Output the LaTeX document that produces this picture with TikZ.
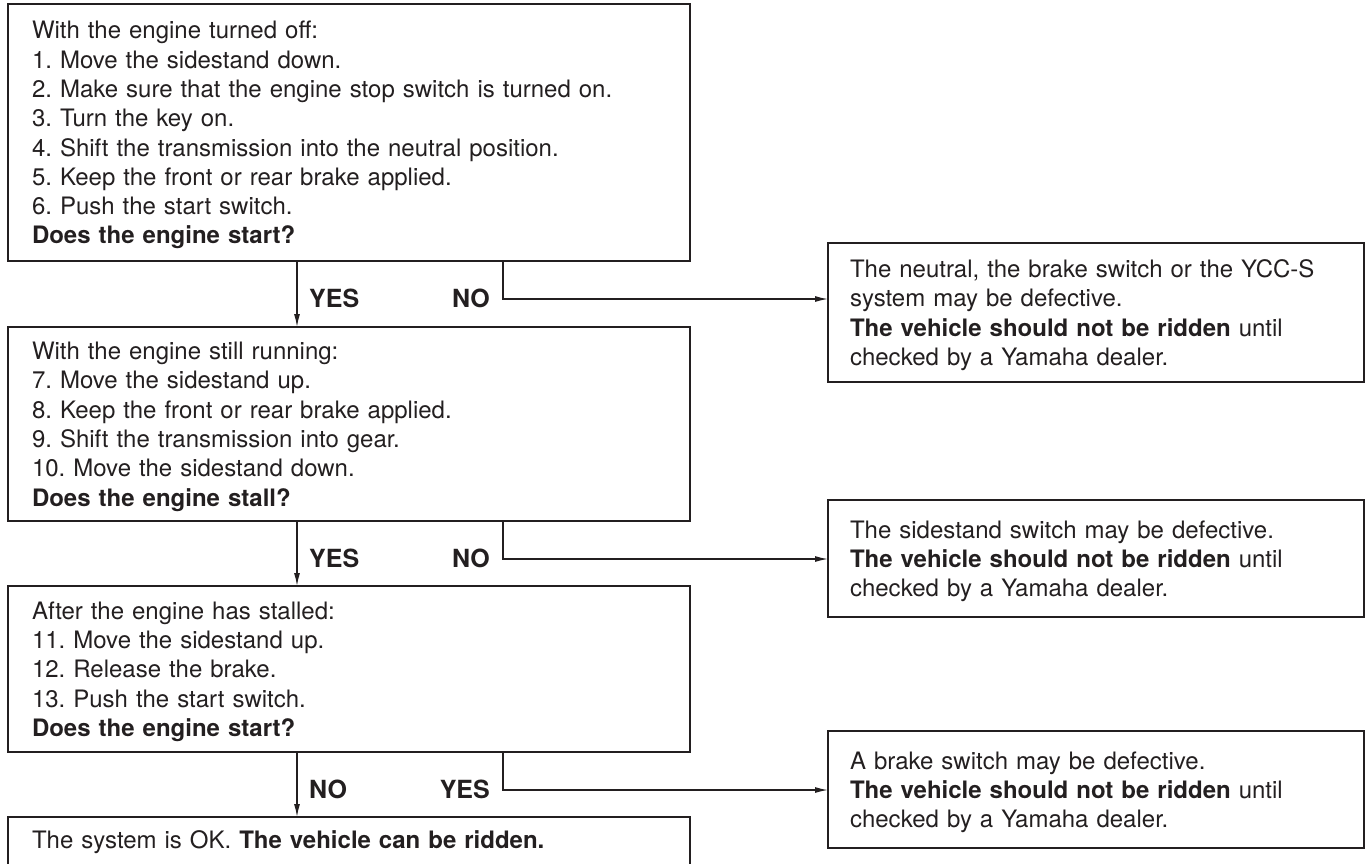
\documentclass[tikz,border=0pt]{standalone}
\usepackage{fontspec}
\setmainfont{TeX Gyre Heros}
\usetikzlibrary{arrows.meta,positioning,calc}
\definecolor{ink}{HTML}{231F20}
\newcommand\bstrut{\rule[-5.8pt]{0pt}{29.3pt}}
\frenchspacing
\begin{document}
\begin{tikzpicture}[x=1pt,y=-1pt,
  box/.style={draw=ink,line width=2.6pt,anchor=north west,outer sep=0pt,inner xsep=24pt,inner ysep=0pt,
    text width=634pt,align=left,font=\fontsize{24pt}{29.3pt}\selectfont,text=ink},
  rbox/.style={box,inner xsep=22pt,text width=492pt},
  lab/.style={font=\bfseries\fontsize{25pt}{30pt}\selectfont,text=ink,inner sep=0pt},
  conn/.style={draw=ink,line width=1.3pt},
  arr/.style={conn,-{Latex[length=13pt,width=6pt]}}]
\useasboundingbox (0,0) rectangle (1368,863);
\clip (0,0) rectangle (1368,863);
\coordinate (colY) at (297,0);
\coordinate (colN) at (503,0);
\coordinate (colR) at (828,0);

\node[box,minimum height=257pt] (box1) at (8,4) {\bstrut With the engine turned off:\\
1. Move the sidestand down.\\
2. Make sure that the engine stop switch is turned on.\\
3. Turn the key on.\\
4. Shift the transmission into the neutral position.\\
5. Keep the front or rear brake applied.\\
6. Push the start switch.\\
\textbf{Does the engine start?}\bstrut};

\node[box,minimum height=194pt,below=66pt of box1] (box2) {\bstrut With the engine still running:\\
7. Move the sidestand up.\\
8. Keep the front or rear brake applied.\\
9. Shift the transmission into gear.\\
10. Move the sidestand down.\\
\textbf{Does the engine stall?}\bstrut};

\node[box,minimum height=166pt,below=65pt of box2] (box3) {\bstrut After the engine has stalled:\\
11. Move the sidestand up.\\
12. Release the brake.\\
13. Push the start switch.\\
\textbf{Does the engine start?}\bstrut};

\node[box,inner ysep=7.5pt,below=65pt of box3] (box4) {\bstrut The system is OK. \textbf{The vehicle can be ridden.}\bstrut\\[60pt]\mbox{}};

\node[rbox,minimum height=139pt] (boxA) at ($(box1.south -| colR)+(0,-18)$) {\bstrut The neutral, the brake switch or the YCC-S\\
system may be defective.\\
\textbf{The vehicle should not be ridden} until\\
checked by a Yamaha dealer.\bstrut};

\node[rbox,minimum height=117pt] (boxB) at ($(box2.south -| colR)+(0,-21)$) {\bstrut The sidestand switch may be defective.\\
\textbf{The vehicle should not be ridden} until\\
checked by a Yamaha dealer.\bstrut};

\node[rbox,minimum height=117pt] (boxC) at ($(box3.south -| colR)+(0,-21)$) {\bstrut A brake switch may be defective.\\
\textbf{The vehicle should not be ridden} until\\
checked by a Yamaha dealer.\bstrut};

\node[lab,anchor=base west] (y1) at ($(box1.south -| colY)+(12,46)$) {YES};
\node[lab,anchor=base east] (n1) at ($(box1.south -| colN)+(-13,46)$) {NO};
\node[lab,anchor=base west] (y2) at ($(box2.south -| colY)+(12,46)$) {YES};
\node[lab,anchor=base east] (n2) at ($(box2.south -| colN)+(-13,46)$) {NO};
\node[lab,anchor=base west] (n3) at ($(box3.south -| colY)+(12,46)$) {NO};
\node[lab,anchor=base east] (y3) at ($(box3.south -| colN)+(-13,46)$) {YES};

\draw[arr] (box1.south -| colY) -- (box2.north -| colY);
\draw[arr] (box2.south -| colY) -- (box3.north -| colY);
\draw[arr] (box3.south -| colY) -- (box4.north -| colY);
\draw[arr] (box1.south -| colN) |- ($(box1.south -| colR)+(0,38)$);
\draw[arr] (box2.south -| colN) |- ($(box2.south -| colR)+(0,38)$);
\draw[arr] (box3.south -| colN) |- ($(box3.south -| colR)+(0,38)$);
\end{tikzpicture}
\end{document}
